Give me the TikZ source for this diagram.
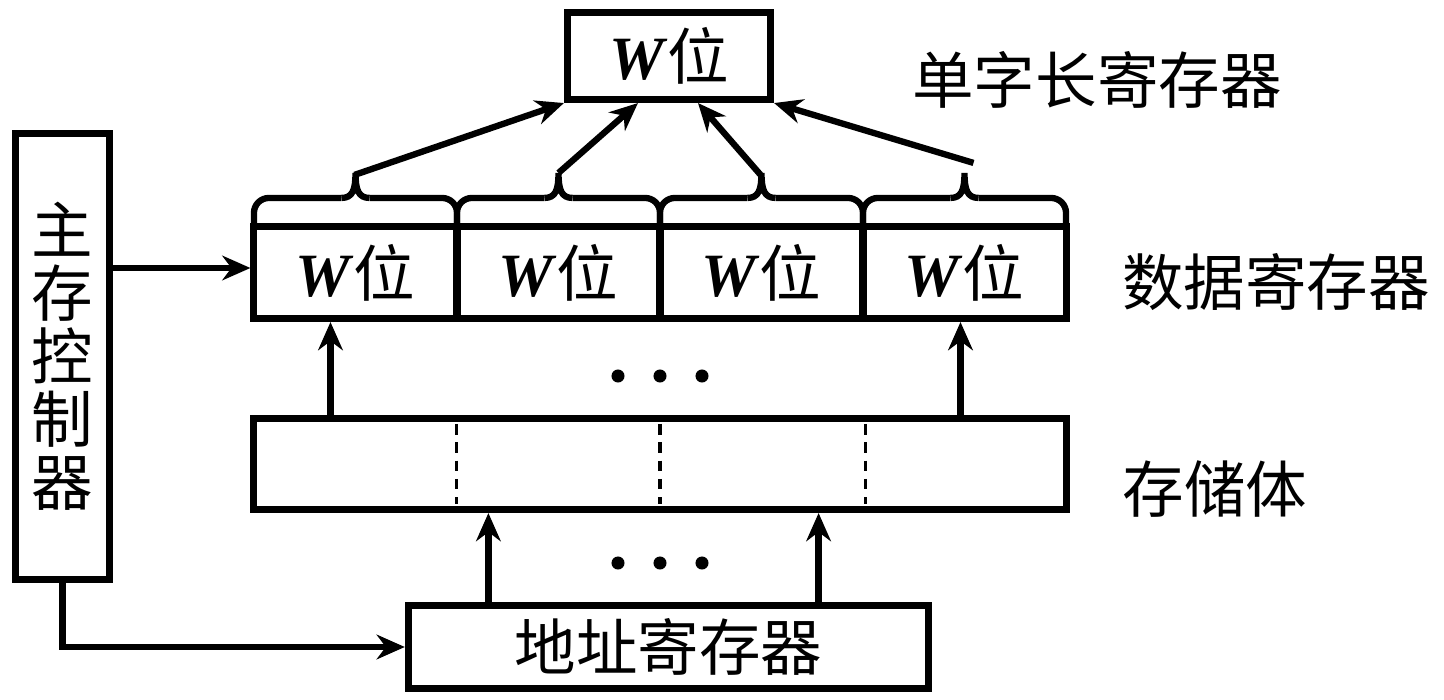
\documentclass[tikz,border=0pt]{standalone}
\usepackage{fontspec}
\setmainfont{Liberation Serif}
\newfontfamily\cjk{Noto Sans CJK SC}
\usetikzlibrary{arrows.meta}

\begin{document}
\begin{tikzpicture}[x=0.01cm, y=-0.01cm,
		>={Stealth[length=8pt, width=7pt, inset=2.6pt]},
		box/.style={draw, line width=2pt, inner sep=0pt},
		link/.style={->, line width=1.8pt},
		curl/.style={line width=1.8pt},
		regtext/.style={font=\fontsize{17.5}{17.9}\cjk}]
		\useasboundingbox (0,0) rectangle (1444,700);

		% Draw word register and data register
		\node[box, minimum width=2.03cm, minimum height=0.87cm, font=\fontsize{17.5}{21}\selectfont] (word) at (669,56) {\textbf{\textit{W}}{\cjk 位}};
		\foreach \i/\x in {1/355.5, 2/558.5, 3/761.5, 4/964.5} {
			\node[box, minimum width=2.03cm, minimum height=0.92cm, font=\fontsize{17.5}{21}\selectfont] (cell\i) at (\x,272.5) {\textbf{\textit{W}}{\cjk 位}};
			% brace over each cell
			\draw[curl, rounded corners=0.15cm] ([xshift=-1.015cm]cell\i.north) |- ([xshift=-0.14cm, yshift=0.25cm]cell\i.north);
			\draw[curl] ([xshift=-0.14cm, yshift=0.25cm]cell\i.north) .. controls ([xshift=-0.03cm, yshift=0.25cm]cell\i.north) and ([yshift=0.33cm]cell\i.north) .. ([yshift=0.5cm]cell\i.north)
				.. controls ([yshift=0.33cm]cell\i.north) and ([xshift=0.03cm, yshift=0.25cm]cell\i.north) .. ([xshift=0.14cm, yshift=0.25cm]cell\i.north);
			\draw[curl, rounded corners=0.15cm] ([xshift=0.14cm, yshift=0.25cm]cell\i.north) -| ([xshift=1.015cm]cell\i.north);
			\coordinate (tip\i) at ([yshift=0.5cm]cell\i.north);
		}

		% Draw controller, storage and address register
		\node[box, minimum width=0.94cm, minimum height=4.46cm, regtext, align=center] (ctrl) at (62.5,356.5) {主\\存\\控\\制\\器};
		\node[box, minimum width=8.13cm, minimum height=0.91cm] (store) at (660,464) {};
		\node[box, minimum width=5.2cm, minimum height=0.83cm, regtext] (addr) at (668.5,647) {地址寄存器};
		\foreach \dx in {-2.03, 0, 2.05}
			\draw[line width=0.9pt, dash pattern=on 3pt off 2.2pt] ([xshift=\dx cm, yshift=-0.09cm]store.north) -- ([xshift=\dx cm, yshift=0.09cm]store.south);

		% Names on the right
		\node[regtext] (wordname) at (1097,80) {单字长寄存器};
		\node[regtext] (dataname) at (1276,282) {数据寄存器};
		\node[regtext] (storename) at (1215,489) {存储体};

		% Arrows
		\draw[link] ([xshift=-0.01cm, yshift=-0.02cm]tip1) -- (word.south west);
		\draw[link] (tip2) -- ([xshift=-0.31cm]word.south);
		\draw[link] ([yshift=-0.03cm]tip3) -- ([xshift=0.29cm]word.south);
		\draw[link] ([shift={(0.09cm,0.1cm)}]tip4) -- (word.south east);
		\draw[link] ([yshift=0.045cm]ctrl.east |- cell1.west) -- ([yshift=0.045cm]cell1.west);
		\draw[link] ([xshift=-0.25cm]cell1.south |- store.north) -- ([xshift=-0.25cm]cell1.south);
		\draw[link] ([xshift=-0.04cm]cell4.south |- store.north) -- ([xshift=-0.04cm]cell4.south);
		\draw[link] ([xshift=-1.8cm]addr.north) -- ([xshift=-1.8cm]addr.north |- store.south);
		\draw[link] ([xshift=1.5cm]addr.north) -- ([xshift=1.5cm]addr.north |- store.south);
		\draw[link] (ctrl.south) |- (addr.west);

		% Dots
		\foreach \x in {618, 660, 702} {
			\fill (\x,376) circle (0.065cm);
			\fill (\x,563) circle (0.065cm);
		}
	\end{tikzpicture}
\end{document}
